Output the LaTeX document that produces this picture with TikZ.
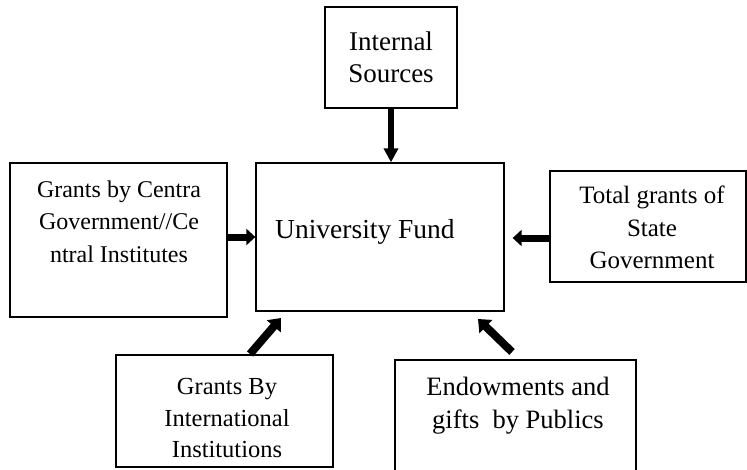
\documentclass[tikz,border=0pt]{standalone}
\usepackage{fontspec}
\setmainfont{Liberation Serif}
\usetikzlibrary{arrows.meta}
\begin{document}
\begin{tikzpicture}[x=1pt,y=-1pt,
  box/.style={draw=black, line width=1.3pt, inner sep=0pt, minimum width=#1},
  lbl/.style={inner sep=0pt, align=center, anchor=north},
  fat/.style={line width=7pt, -{Triangle[width=16pt,length=9pt]}},
  fatv/.style={line width=6pt, -{Triangle[width=14pt,length=14pt]}},
  fatd/.style={line width=8pt, -{Triangle[width=18pt,length=11pt]}},
]
\useasboundingbox (0,0) rectangle (747,469);
% boxes
\node[box=132pt, minimum height=101pt] (IS) at (391,57.5) {};
\node[box=248pt, minimum height=148pt] (UF) at (380,237) {};
\node[box=217pt, minimum height=154pt] (L) at (118.5,240) {};
\node[box=196pt, minimum height=111pt] (R) at (648,226.5) {};
\node[box=217pt, minimum height=112pt] (BL) at (224.5,411) {};
\node[box=241pt, minimum height=118pt] (BR) at (515.5,419) {};
% texts
\node[lbl, font=\fontsize{27}{32}\selectfont] (ist) at (391,31.6) {Internal\\Sources};
\node[inner sep=0pt, anchor=base west, font=\fontsize{27.5}{33}\selectfont] (uft) at (275,238) {University Fund};
\node[lbl, font=\fontsize{24}{32.5}\selectfont] (lt) at (119,180.6) {Grants by Centra\\Government//Ce\\ntral Institutes};
\node[lbl, font=\fontsize{25}{32.5}\selectfont] (rt) at (652,185.9) {Total grants of\\State\\Government};
\node[lbl, font=\fontsize{24.5}{31.5}\selectfont] (blt) at (227,378.3) {Grants By\\International\\Institutions};
\node[lbl, font=\fontsize{26.5}{33}\selectfont] (brt) at (518,376.9) {Endowments and\\gifts\ \ by Publics};
% arrows
\draw[fatv] (IS.south) -- (IS.south |- UF.north);
\coordinate (la) at ([yshift=3pt]L.east);
\draw[fat] (la) -- (la -| UF.west);
\coordinate (ra) at ([yshift=-11.5pt]R.west);
\draw[fat, shorten >=8pt] (ra) -- (ra -| UF.east);
\coordinate (bl1) at (250,354);
\coordinate (bl2) at (281,318);
\draw[fatd] (bl1) -- (bl2);
\coordinate (br1) at (512,352);
\coordinate (br2) at (478,319);
\draw[fatd] (br1) -- (br2);
\end{tikzpicture}
\end{document}
